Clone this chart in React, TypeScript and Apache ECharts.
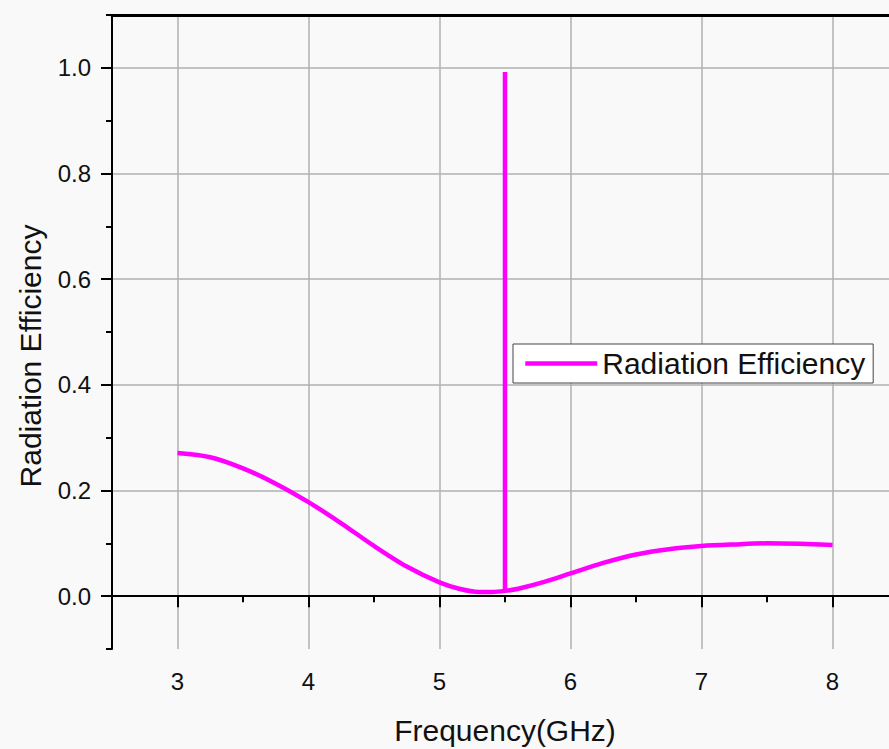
import React, { useEffect, useRef } from "react";
import * as echarts from "echarts";

// Frequency (GHz) and radiation efficiency
const freq = [3.0, 3.25, 3.5, 3.75, 4.0, 4.25, 4.5, 4.75, 5.0, 5.15, 5.3, 5.4, 5.5, 5.6, 5.8, 6.0, 6.25, 6.5, 6.75, 7.0, 7.25, 7.5, 7.75, 8.0];
const efficiency = [0.271, 0.263, 0.242, 0.213, 0.178, 0.138, 0.095, 0.056, 0.026, 0.014, 0.008, 0.008, 0.01, 0.014, 0.027, 0.043, 0.063, 0.079, 0.089, 0.095, 0.098, 0.1, 0.099, 0.097];
// Narrow resonance spike at 5.5 GHz
const spikeFreq = [5.5, 5.5];
const spikeEff = [0.01, 0.992];

const xMajorTicks = [3, 4, 5, 6, 7, 8];
const yMajorTicks = [0, 0.2, 0.4, 0.6, 0.8, 1.0];

const seriesName = "Radiation Efficiency";
const FONT = "'Liberation Sans', Arial, sans-serif";

export default function App() {
  const ref = useRef<HTMLDivElement>(null);
  useEffect(() => {
    document.body.style.margin = "0";
    const chart = echarts.init(ref.current!, null, { renderer: "svg" });
    const black = "#000";
    const grey = "#b0b0b0";
    chart.setOption({
      animation: false,
      backgroundColor: "#f9f9f9",
      textStyle: { fontFamily: FONT },
      grid: {
        left: 112,
        top: 15,
        width: 786,
        height: 634,
        containLabel: false,
        outerBoundsMode: "none",
      },
      legend: {
        left: 513,
        top: 344,
        data: [seriesName],
        itemWidth: 72,
        itemHeight: 14,
        padding: [3, 8, 3, 10],
        backgroundColor: "#ffffff",
        borderColor: "#444",
        borderWidth: 1,
        borderRadius: 0,
        lineStyle: { width: 4.5 },
        itemStyle: { opacity: 0 },
        textStyle: { fontSize: 30, color: "#111", fontFamily: FONT, lineHeight: 33 },
      },
      xAxis: [
        {
          type: "value",
          min: 2.5,
          max: 8.5,
          interval: 0.5,
          position: "bottom",
          name: "Frequency(GHz)",
          nameLocation: "middle",
          nameGap: 66,
          nameTextStyle: { fontSize: 30, color: "#111", fontFamily: FONT },
          axisLine: { show: true, lineStyle: { color: black, width: 2 } },
          axisTick: { show: true, length: 6, lineStyle: { color: black, width: 2 } },
          axisLabel: { show: false },
          splitLine: { show: true, lineStyle: { color: ["rgba(0,0,0,0)", grey], width: 1.5 } },
        },
        {
          type: "value",
          min: 2.5,
          max: 8.5,
          interval: 0.5,
          position: "bottom",
          axisLine: { show: false },
          axisTick: { show: true, length: 11, customValues: xMajorTicks, lineStyle: { color: black, width: 2 } },
          axisLabel: {
            show: true,
            customValues: xMajorTicks,
            fontSize: 24,
            color: "#111",
            fontFamily: FONT,
            margin: 20,
            formatter: (v: number) => String(v),
          },
          splitLine: { show: false },
        },
        {
          type: "value",
          min: 2.5,
          max: 8.5,
          interval: 0.5,
          position: "top",
          axisLine: { show: true, lineStyle: { color: black, width: 3 } },
          axisTick: { show: false },
          axisLabel: { show: false },
          splitLine: { show: false },
        },
      ],
      yAxis: [
        {
          type: "value",
          min: -0.1,
          max: 1.1,
          interval: 0.1,
          position: "left",
          name: "Radiation Efficiency",
          nameLocation: "middle",
          nameGap: 67,
          nameTextStyle: { fontSize: 30, color: "#111", fontFamily: FONT, padding: [0, 48, 0, 0] },
          axisLine: { show: true, lineStyle: { color: black, width: 2 } },
          axisTick: { show: true, length: 6, lineStyle: { color: black, width: 2 } },
          axisLabel: { show: false },
          splitLine: { show: true, lineStyle: { color: ["rgba(0,0,0,0)", grey], width: 1.5 } },
        },
        {
          type: "value",
          min: -0.1,
          max: 1.1,
          interval: 0.1,
          position: "left",
          axisLine: { show: false },
          axisTick: { show: true, length: 11, customValues: yMajorTicks, lineStyle: { color: black, width: 2 } },
          axisLabel: {
            show: true,
            customValues: yMajorTicks,
            fontSize: 24,
            color: "#111",
            fontFamily: FONT,
            margin: 21,
            formatter: (v: number) => v.toFixed(1),
          },
          splitLine: { show: false },
        },
      ],
      series: [
        {
          name: seriesName,
          type: "line",
          xAxisIndex: 0,
          yAxisIndex: 0,
          symbol: "none",
          smooth: 0.3,
          lineStyle: { color: "#ff00ff", width: 4.5 },
          itemStyle: { color: "#ff00ff" },
          data: freq.map((f, i) => [f, efficiency[i]]),
          z: 3,
        },
        {
          name: seriesName,
          type: "line",
          xAxisIndex: 0,
          yAxisIndex: 0,
          symbol: "none",
          lineStyle: { color: "#ff00ff", width: 4.5, cap: "butt" },
          itemStyle: { color: "#ff00ff" },
          data: spikeFreq.map((f, i) => [f, spikeEff[i]]),
          z: 3,
        },
      ],
    });
    return () => chart.dispose();
  }, []);
  return (
    <div
      ref={ref}
      style={{ position: "fixed", left: 0, top: 0, width: 889, height: 749 }}
    />
  );
}
